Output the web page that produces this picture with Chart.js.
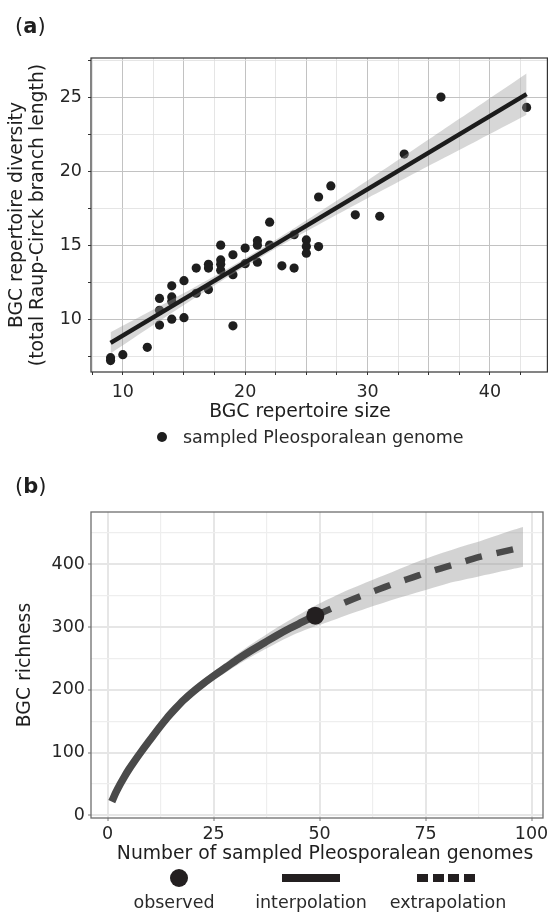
<!DOCTYPE html>
<html>
<head>
<meta charset="utf-8">
<script src="https://cdn.jsdelivr.net/npm/chart.js@4.4.1/dist/chart.umd.min.js"></script>
<style>
  html, body { margin: 0; padding: 0; background: #fff; }
  body { width: 552px; height: 912px; position: relative; overflow: hidden; font-family: 'DejaVu Sans', sans-serif; color: #1e1e1e; }
  .abs { position: absolute; white-space: nowrap; line-height: 24px; }
  .ctr { transform: translateX(-50%); }
  #wrapA { position: absolute; left: 0; top: 0; width: 552px; height: 400px; }
  #wrapB { position: absolute; left: 0; top: 470px; width: 552px; height: 380px; }
</style>
</head>
<body>
<div id="wrapA"><canvas id="chartA" width="552" height="400"></canvas></div>
<div id="wrapB"><canvas id="chartB" width="552" height="380"></canvas></div>

<div class="abs" style="left:15px;top:14px;font-size:21px;">(<b>a</b>)</div>
<div class="abs ctr" style="left:300px;top:399px;font-size:18.8px;">BGC repertoire size</div>
<div class="abs" style="left:157px;top:432px;width:10px;height:10px;border-radius:50%;background:#1e1e1e;"></div>
<div class="abs" style="left:183px;top:425px;font-size:17.5px;color:#2a2a2a;">sampled Pleosporalean genome</div>

<div class="abs" style="left:15px;top:474px;font-size:21px;">(<b>b</b>)</div>
<div class="abs ctr" style="left:325px;top:841px;font-size:18.8px;">Number of sampled Pleosporalean genomes</div>
<div class="abs" style="left:170px;top:869px;width:18px;height:18px;border-radius:50%;background:#231f20;"></div>
<div class="abs" style="left:282px;top:874px;width:58px;height:8px;background:#231f20;"></div>
<div class="abs" style="left:417px;top:874px;width:11px;height:8px;background:#231f20;"></div>
<div class="abs" style="left:432.7px;top:874px;width:11px;height:8px;background:#231f20;"></div>
<div class="abs" style="left:448.3px;top:874px;width:11px;height:8px;background:#231f20;"></div>
<div class="abs" style="left:464px;top:874px;width:11px;height:8px;background:#231f20;"></div>
<div class="abs ctr" style="left:174px;top:890px;font-size:17.5px;color:#2a2a2a;">observed</div>
<div class="abs ctr" style="left:311px;top:890px;font-size:17.5px;color:#2a2a2a;">interpolation</div>
<div class="abs ctr" style="left:448px;top:890px;font-size:17.5px;color:#2a2a2a;">extrapolation</div>

<script>
// ---------- Panel (a) data ----------
const repertoireSize = [9,9,10,12,13,13,13,14,14,14,14,15,15,16,16,17,17,17,18,18,18,18,19,19,19,20,20,21,21,21,22,22,23,24,24,25,25,25,26,26,27,29,31,33,36,43];
const repertoireDiversity = [7.4,7.2,7.6,8.1,11.4,10.6,9.6,12.25,11.5,11.2,10.0,12.6,10.1,13.45,11.75,13.7,13.45,12.0,15.0,14.0,13.7,13.3,14.35,13.0,9.55,14.8,13.75,15.3,15.0,13.85,16.55,15.0,13.6,15.7,13.45,15.35,14.9,14.45,18.25,14.9,19.0,17.05,16.95,21.15,25.0,24.3];
const fitX = [9, 43];
const fitY = [8.4, 25.2];
const bandX = [9,12,15,18,21,24,27,30,33,36,39,43];
const bandLow = [7.68,9.33,10.96,12.55,14.05,15.48,16.84,18.17,19.48,20.78,22.07,23.8];
const bandHigh = [9.12,10.43,11.76,13.15,14.61,16.14,17.74,19.37,21.04,22.70,24.37,26.6];
const xTicksA = [10,20,30,40];
const yTicksA = [10,15,20,25];

// ---------- Panel (b) data ----------
const interpX = [1,2,3,4,5,6,8,10,12,14,16,18,20,22,25,28,31,34,37,40,43,46,49];
const interpY = [22,37,50,62,73,83,102,120,138,155,170,184,196,207,222,236,250,263,275,287,298,308,318];
const interpLow = [21,35.5,48,60,70.5,80,99,116.5,134,150.5,165,178.5,190,200.5,215,228,241,253,264,275,285,293.5,301];
const interpHigh = [23,38.5,52,64,75.5,86,105,123.5,142,159.5,175,189.5,202,213.5,229,244,259,273,286,299,311,322.5,334];
const extrapX = [49,52,56,60,64,68,72,76,80,84,88,92,96,98];
const extrapY = [318,327,339,350,360,370,379,388,396,404,412,418,424,427];
const extrapLow = [301,308,318,327,336,345,353,361,369,375,381,387,393,396];
const extrapHigh = [334,344,357,368,379,390,401,411,420,429,437,446,455,459];
const observedX = [49];
const observedY = [318];
const xTicksB = [0,25,50,75,100];
const yTicksB = [0,100,200,300,400];

const pts = (xs, ys) => xs.map((x, i) => ({x: x, y: ys[i]}));

Chart.defaults.font.family = "'DejaVu Sans', sans-serif";
Chart.defaults.color = '#262626';

const framePlugin = {
  id: 'frame',
  afterDatasetsDraw(chart, args, opts) {
    const a = chart.chartArea, c = chart.ctx;
    c.save();
    c.strokeStyle = opts.color;
    c.lineWidth = opts.width;
    c.strokeRect(a.left, a.top, a.right - a.left, a.bottom - a.top);
    c.restore();
  }
};

// ---------- Chart A ----------
new Chart(document.getElementById('chartA'), {
  type: 'scatter',
  data: {
    datasets: [
      { type: 'scatter', data: pts(repertoireSize, repertoireDiversity), backgroundColor: '#1e1e1e', borderWidth: 0, pointRadius: 4.6, pointHoverRadius: 4.6, order: 3 },
      { type: 'line', data: pts(bandX, bandLow), borderWidth: 0, pointRadius: 0, fill: false, tension: 0.3, order: 2 },
      { type: 'line', data: pts(bandX, bandHigh), borderWidth: 0, pointRadius: 0, fill: '-1', backgroundColor: 'rgba(150,150,150,0.38)', tension: 0.3, order: 2 },
      { type: 'line', data: pts(fitX, fitY), borderColor: '#1c1c1c', borderWidth: 4.5, pointRadius: 0, fill: false, order: 0 }
    ]
  },
  options: {
    responsive: false,
    animation: false,
    layout: { padding: { top: 58, right: 4, left: 0, bottom: 0 } },
    plugins: { legend: { display: false }, tooltip: { enabled: false }, frame: { color: '#333', width: 1.2 } },
    scales: {
      x: {
        type: 'linear', min: 7.4, max: 44.7,
        afterFit: s => { s.height = 28; },
        ticks: {
          stepSize: 2.5, autoSkip: false, includeBounds: false, maxRotation: 0, padding: 7,
          font: { size: 17.5 }, color: '#262626',
          callback: v => (xTicksA.includes(v) ? String(v) : '')
        },
        grid: {
          color: c => (c.tick && c.tick.value % 5 === 0 ? '#c2c2c2' : '#dedede'),
          lineWidth: c => (c.tick && c.tick.value % 5 === 0 ? 1 : 0.8),
          tickLength: 3, tickColor: '#333', tickWidth: 1
        },
        border: { display: false }
      },
      y: {
        type: 'linear', min: 6.43, max: 27.64,
        afterFit: s => { s.width = 91; },
        ticks: {
          stepSize: 2.5, autoSkip: false, includeBounds: false, padding: 6,
          font: { size: 17.5 }, color: '#262626',
          callback: v => (yTicksA.includes(v) ? String(v) : '')
        },
        grid: {
          color: c => (c.tick && c.tick.value % 5 === 0 ? '#c2c2c2' : '#dedede'),
          lineWidth: c => (c.tick && c.tick.value % 5 === 0 ? 1 : 0.8),
          tickLength: 3, tickColor: '#333', tickWidth: 1
        },
        border: { display: false },
        title: {
          display: true,
          text: ['BGC repertoire diversity', '(total Raup-Circk branch length)'],
          font: { size: 18.8, lineHeight: 1.1 }, color: '#1e1e1e',
          padding: { top: 7, bottom: 0 }
        }
      }
    }
  },
  plugins: [framePlugin]
});

// ---------- Chart B ----------
new Chart(document.getElementById('chartB'), {
  type: 'line',
  data: {
    datasets: [
      { data: pts(interpX, interpLow), borderWidth: 0, pointRadius: 0, fill: false, tension: 0.3, order: 3 },
      { data: pts(interpX, interpHigh), borderWidth: 0, pointRadius: 0, fill: '-1', backgroundColor: 'rgba(150,150,150,0.42)', tension: 0.3, order: 3 },
      { data: pts(extrapX, extrapLow), borderWidth: 0, pointRadius: 0, fill: false, tension: 0.3, order: 3 },
      { data: pts(extrapX, extrapHigh), borderWidth: 0, pointRadius: 0, fill: '-1', backgroundColor: 'rgba(150,150,150,0.42)', tension: 0.3, order: 3 },
      { data: pts(interpX, interpY), borderColor: '#4a4a4a', borderWidth: 7.5, pointRadius: 0, fill: false, cubicInterpolationMode: 'monotone', borderCapStyle: 'butt', order: 1 },
      { data: pts(extrapX, extrapY), borderColor: '#4a4a4a', borderWidth: 6.5, borderDash: [17, 15], pointRadius: 0, fill: false, cubicInterpolationMode: 'monotone', borderCapStyle: 'butt', order: 1 },
      { type: 'scatter', data: pts(observedX, observedY), backgroundColor: '#231f20', borderWidth: 0, pointRadius: 9, pointHoverRadius: 9, order: 0 }
    ]
  },
  options: {
    responsive: false,
    animation: false,
    layout: { padding: { top: 42, right: 5, left: 0, bottom: 0 } },
    plugins: { legend: { display: false }, tooltip: { enabled: false }, frame: { color: '#6e6e6e', width: 1.3 } },
    scales: {
      x: {
        type: 'linear', min: -3.9, max: 102.7,
        afterFit: s => { s.height = 32; },
        ticks: {
          stepSize: 12.5, autoSkip: false, includeBounds: false, maxRotation: 0, padding: 3,
          font: { size: 17.5 }, color: '#262626',
          callback: v => (xTicksB.includes(v) ? String(v) : '')
        },
        grid: {
          color: c => (c.tick && c.tick.value % 25 === 0 ? '#e6e6e6' : '#eeeeee'),
          lineWidth: c => (c.tick && c.tick.value % 25 === 0 ? 2 : 1.2),
          tickLength: 3,
          tickColor: c => (c.tick && c.tick.value % 25 === 0 ? '#777' : 'rgba(0,0,0,0)'),
          tickWidth: 1
        },
        border: { display: false }
      },
      y: {
        type: 'linear', min: -4, max: 483,
        afterFit: s => { s.width = 91; },
        ticks: {
          stepSize: 50, autoSkip: false, includeBounds: false, padding: 3,
          font: { size: 17.5 }, color: '#262626',
          callback: v => (yTicksB.includes(v) ? String(v) : '')
        },
        grid: {
          color: c => (c.tick && c.tick.value % 100 === 0 ? '#e6e6e6' : '#eeeeee'),
          lineWidth: c => (c.tick && c.tick.value % 100 === 0 ? 2 : 1.2),
          tickLength: 3,
          tickColor: c => (c.tick && c.tick.value % 100 === 0 ? '#777' : 'rgba(0,0,0,0)'),
          tickWidth: 1
        },
        border: { display: false },
        title: {
          display: true, text: 'BGC richness',
          font: { size: 18.8, lineHeight: 1.1 }, color: '#1e1e1e',
          padding: { top: 14.5, bottom: 0 }
        }
      }
    }
  },
  plugins: [framePlugin]
});
</script>
</body>
</html>
